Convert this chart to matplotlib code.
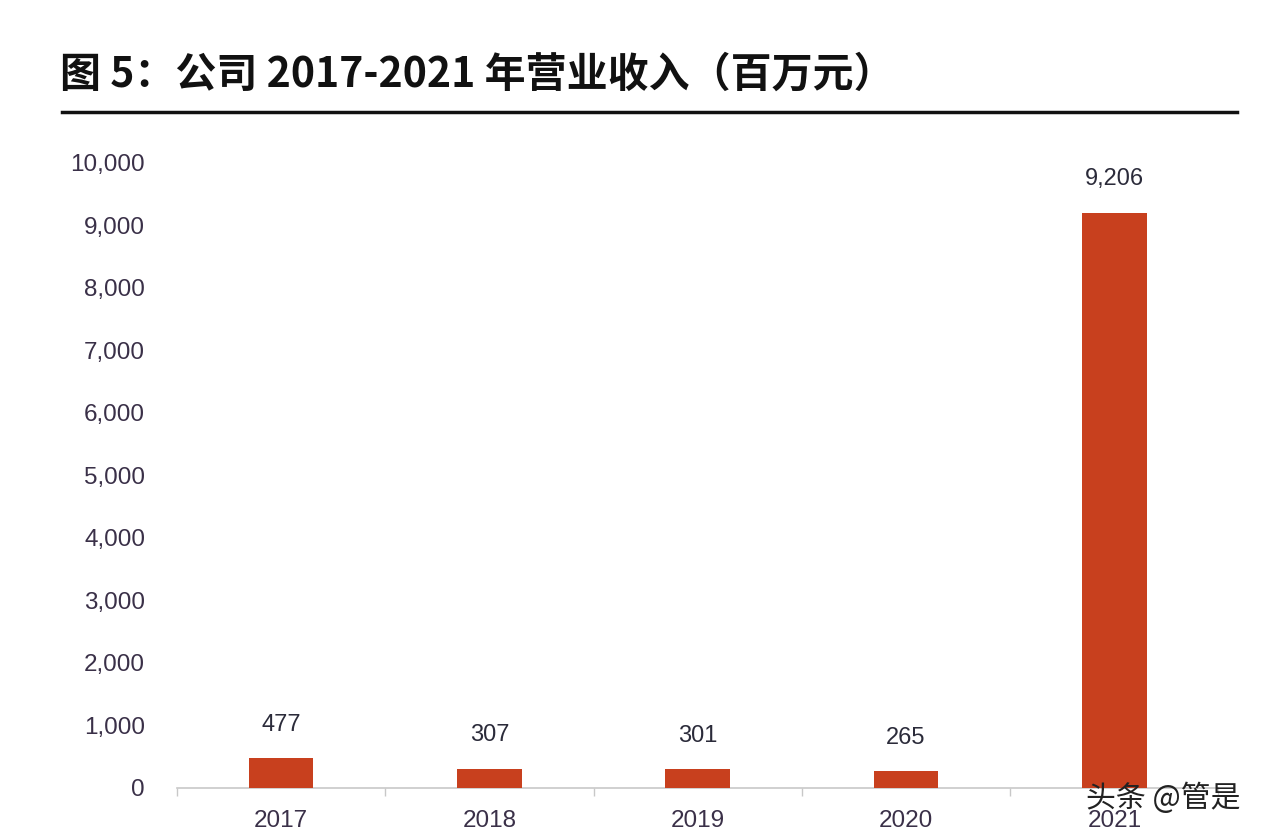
import matplotlib
matplotlib.use("Agg")
import matplotlib.pyplot as plt
import numpy as np

years = ["2017", "2018", "2019", "2020", "2021"]
revenue = [477, 307, 301, 265, 9206]
labels = ["477", "307", "301", "265", "9,206"]
yticks = [0, 1000, 2000, 3000, 4000, 5000, 6000, 7000, 8000, 9000, 10000]
title = "图 5：公司 2017-2021 年营业收入（百万元）"

plt.rcParams['font.family'] = ['Liberation Sans', 'Noto Sans CJK SC', 'DejaVu Sans']

fig = plt.figure(figsize=(12.64, 8.38), dpi=100)
ax = fig.add_axes([0.140, 0.0597, 0.824, 0.7458])

x = np.arange(len(years))
bar_color = "#C8401E"
ax.bar(x, revenue, width=0.31, color=bar_color, zorder=3)
for xi, v, lab in zip(x, revenue, labels):
    ax.text(xi, v + 360, lab, ha="center", va="bottom", fontsize=17, color="#2b2b3a")

ax.set_xlim(-0.5, len(years) - 0.5)
ax.set_ylim(0, 10000)
ax.set_yticks(yticks)
ax.set_yticklabels([f"{t:,}" for t in yticks], fontsize=17.5, color="#3a3048")
ax.set_xticks(x)
ax.set_xticklabels(years, fontsize=17.5, color="#3a3048")
ax.tick_params(axis="y", length=0, pad=23)
ax.tick_params(axis="x", length=0, pad=16)
# minor ticks at category boundaries
ax.set_xticks(np.arange(-0.5, len(years), 1.0), minor=True)
ax.tick_params(axis="x", which="minor", length=6, color="#c8c8c8", width=1)

for s in ["top", "right", "left"]:
    ax.spines[s].set_visible(False)
ax.spines["bottom"].set_color("#c8c8c8")
ax.spines["bottom"].set_linewidth(1.2)

fig.text(60 / 1264, 1 - 75 / 838, title, fontsize=29.5, fontweight="bold",
         family=["Noto Sans CJK SC", "DejaVu Sans"], ha="left", va="center", color="#111111")
fig.add_artist(plt.Line2D([62 / 1264, 1237 / 1264], [1 - 112 / 838, 1 - 112 / 838],
                          color="#111111", linewidth=2.5))

fig.text(1240 / 1264, 1 - 798 / 838, "头条 @管是", fontsize=21.5,
         family=["Noto Sans CJK SC", "DejaVu Sans"], ha="right", va="center", color="#222222")

fig.savefig("out.png", dpi=100, facecolor="white")
